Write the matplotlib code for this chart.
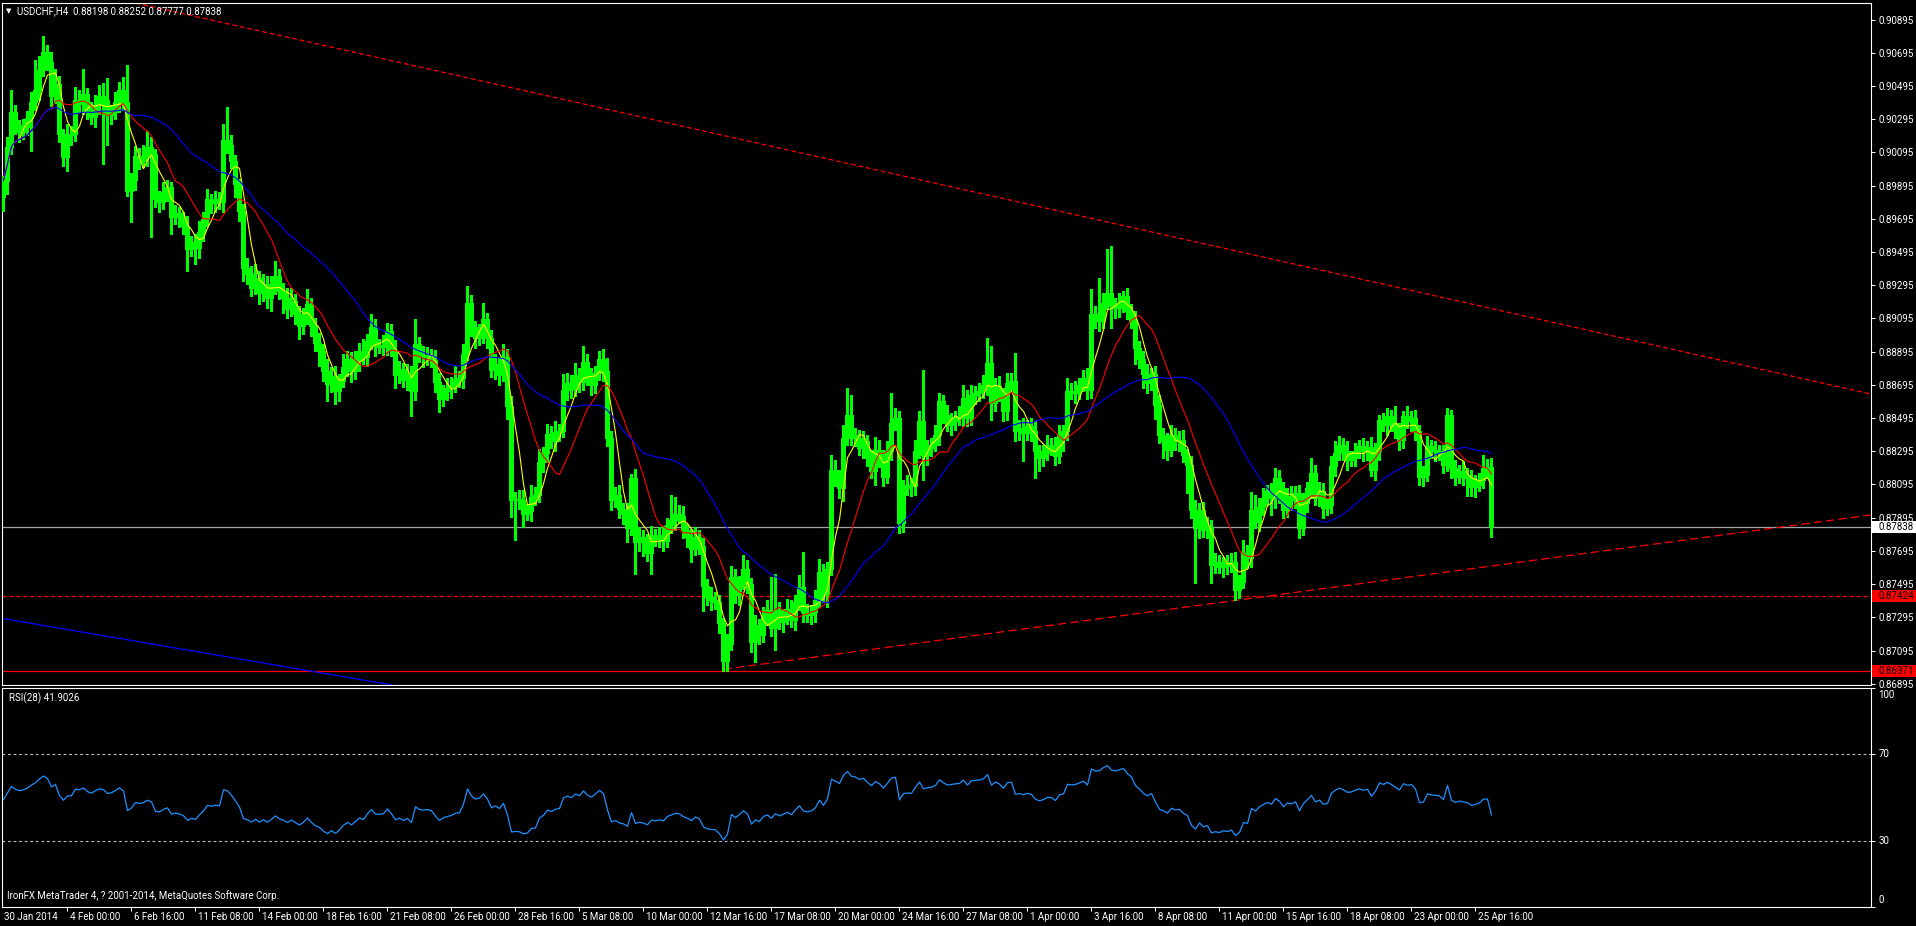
import numpy as np
import pandas as pd
import matplotlib
matplotlib.use("Agg")
import matplotlib.pyplot as plt
from matplotlib.patches import Rectangle
from matplotlib.transforms import blended_transform_factory, offset_copy

plt.rcParams['font.family'] = ['Roboto', 'DejaVu Sans']
plt.rcParams['lines.scale_dashes'] = False

## USDCHF H4 closes, in 1e-5 price units (one row = 20 bars)
closes = [
    89925, 90127, 90338, 90258, 90217, 90248, 90302, 90399, 90473, 90594, 90699, 90640, 90433, 90505, 90207, 90066, 90197, 90203, 90409, 90389,
    90445, 90348, 90308, 90378, 90433, 90413, 90318, 90338, 90399, 90469, 90399, 89865, 89929, 90071, 90046, 90071, 90127, 90086, 89815, 89794,
    89855, 89889, 89704, 89728, 89704, 89653, 89512, 89553, 89522, 89613, 89694, 89815, 89788, 89815, 89794, 90167, 90141, 90042, 89905, 89744,
    89400, 89360, 89280, 89340, 89250, 89300, 89220, 89280, 89350, 89260, 89220, 89150, 89200, 89120, 89050, 89100, 89180, 89050, 88950, 88900,
    88780, 88700, 88750, 88660, 88720, 88800, 88850, 88780, 88840, 88900, 88860, 88960, 89041, 88929, 88925, 88936, 89020, 88908, 88757, 88788,
    88725, 88761, 88656, 88942, 88872, 88862, 88872, 88845, 88715, 88609, 88656, 88677, 88694, 88731, 88736, 88883, 89188, 89041, 88978, 88999,
    89089, 88978, 88782, 88820, 88757, 88862, 88567, 87999, 88009, 87999, 87919, 87936, 88020, 88030, 88230, 88283, 88399, 88357, 88409, 88420,
    88662, 88704, 88668, 88757, 88715, 88830, 88736, 88694, 88767, 88851, 88778, 88378, 87999, 88030, 87946, 87915, 87831, 88136, 87746, 87778,
    87746, 87683, 87788, 87767, 87788, 87757, 87852, 87883, 87919, 87904, 87820, 87778, 87708, 87778, 87725, 87483, 87420, 87399, 87388, 87263,
    87031, 87136, 87536, 87431, 87504, 87588, 87494, 87146, 87247, 87187, 87307, 87338, 87231, 87338, 87267, 87307, 87348, 87277, 87388, 87479,
    87328, 87307, 87328, 87398, 87569, 87438, 87589, 88184, 88133, 88073, 88375, 88516, 88395, 88375, 88314, 88355, 88254, 88174, 88304, 88250,
    88143, 88294, 88466, 88496, 87861, 88073, 88093, 88083, 88294, 88476, 88274, 88314, 88335, 88395, 88596, 88516, 88455, 88476, 88496, 88506,
    88617, 88496, 88637, 88647, 88657, 88697, 88828, 88586, 88687, 88637, 88536, 88707, 88717, 88415, 88435, 88405, 88445, 88415, 88294, 88254,
    88284, 88335, 88330, 88264, 88395, 88415, 88657, 88647, 88657, 88697, 88737, 88667, 89120, 89080, 89090, 89191, 89251, 89170, 89156, 89191,
    89231, 89140, 89080, 88919, 88848, 88758, 88707, 88758, 88572, 88395, 88355, 88304, 88395, 88355, 88365, 88270, 88214, 87942, 87831, 87942,
    87821, 87841, 87610, 87630, 87600, 87630, 87606, 87630, 87459, 87509, 87680, 87650, 87942, 87872, 87962, 88013, 88053, 88013, 88133, 88073,
    87942, 88023, 88003, 88043, 87831, 87982, 88073, 88164, 88013, 88053, 87952, 87972, 88204, 88284, 88335, 88295, 88244, 88254, 88295, 88325,
    88295, 88319, 88184, 88295, 88486, 88456, 88506, 88466, 88415, 88365, 88506, 88476, 88496, 88415, 88143, 88154, 88325, 88305, 88295, 88284,
    88214, 88516, 88194, 88143, 88174, 88154, 88133, 88077, 88093, 88123, 88194, 88198, 87838,
]
first_open = 89825

## wicks above / below the body, in pips
upper_wick = [
    3, 6, 13, 4, 3, 5, 4, 6, 18, 8, 10, 4, 6, 9, 5, 3, 7, 5, 8, 6,
    15, 4, 5, 6, 7, 8, 13, 4, 6, 5, 8, 22, 4, 6, 5, 7, 10, 6, 3, 5,
    6, 4, 3, 5, 4, 3, 6, 4, 5, 7, 4, 6, 3, 5, 4, 10, 20, 6, 4, 3,
    4, 6, 5, 8, 4, 6, 5, 7, 9, 4, 5, 6, 8, 4, 5, 6, 9, 4, 5, 6,
    4, 7, 5, 6, 4, 8, 5, 4, 6, 5, 7, 4, 8, 5, 4, 6, 5, 4, 6, 5,
    4, 6, 5, 15, 4, 6, 5, 4, 6, 5, 4, 6, 5, 8, 4, 6, 10, 5, 4, 6,
    10, 4, 5, 6, 4, 8, 5, 6, 4, 5, 6, 4, 7, 5, 8, 4, 6, 5, 7, 4,
    10, 6, 5, 7, 4, 10, 5, 6, 4, 5, 6, 8, 4, 5, 6, 4, 7, 2, 5, 6,
    4, 5, 6, 4, 5, 6, 4, 15, 10, 5, 6, 4, 5, 6, 4, 5, 4, 6, 5, 4,
    3, 6, 7, 5, 4, 8, 5, 4, 6, 4, 5, 6, 20, 22, 5, 4, 6, 5, 4, 7,
    21, 5, 4, 6, 8, 5, 4, 9, 6, 5, 8, 16, 12, 4, 5, 6, 4, 5, 8, 6,
    5, 6, 18, 6, 4, 5, 6, 4, 7, 6, 31, 5, 4, 6, 5, 4, 6, 5, 4, 6,
    8, 5, 6, 4, 5, 6, 15, 10, 5, 6, 4, 6, 5, 17, 5, 6, 4, 5, 6, 4,
    5, 6, 4, 5, 6, 4, 8, 5, 6, 4, 5, 6, 15, 5, 25, 6, 26, 28, 5, 6,
    3, 5, 4, 6, 4, 5, 6, 4, 5, 6, 4, 5, 6, 4, 5, 6, 4, 5, 6, 4,
    5, 6, 4, 5, 4, 3, 4, 5, 6, 4, 8, 5, 11, 9, 5, 6, 4, 5, 6, 5,
    4, 5, 6, 4, 5, 6, 4, 9, 5, 6, 5, 4, 6, 7, 5, 4, 6, 4, 5, 4,
    5, 4, 6, 5, 3, 4, 5, 4, 10, 5, 3, 6, 4, 5, 4, 5, 6, 4, 5, 4,
    5, 4, 3, 5, 4, 6, 4, 5, 6, 4, 8, 5, 5.4,
]
lower_wick = [
    8, 8, 4, 5, 6, 4, 5, 20, 5, 6, 4, 5, 6, 4, 5, 5, 8, 6, 4, 5,
    6, 5, 4, 6, 5, 39, 18, 5, 4, 6, 5, 3, 19, 6, 5, 4, 6, 50, 5, 6,
    4, 5, 10, 4, 6, 5, 13, 4, 10, 6, 5, 4, 6, 5, 4, 6, 5, 4, 8, 6,
    8, 6, 5, 4, 7, 5, 6, 8, 4, 5, 9, 5, 4, 6, 8, 5, 4, 6, 5, 9,
    6, 10, 5, 8, 6, 4, 5, 7, 5, 6, 4, 5, 5, 6, 4, 5, 6, 4, 8, 5,
    4, 6, 15, 5, 4, 6, 5, 4, 6, 8, 4, 5, 6, 4, 5, 6, 4, 5, 6, 4,
    5, 6, 4, 5, 6, 4, 8, 10, 24, 5, 8, 4, 6, 5, 4, 6, 5, 4, 6, 5,
    4, 6, 5, 4, 6, 5, 4, 6, 5, 4, 6, 5, 6, 4, 5, 6, 8, 4, 19, 5,
    8, 5, 13, 4, 5, 6, 4, 5, 6, 4, 5, 6, 8, 4, 5, 15, 5, 6, 4, 6,
    6, 6, 4, 5, 6, 4, 5, 6, 12, 5, 4, 6, 5, 13, 4, 6, 5, 4, 6, 5,
    6, 4, 5, 6, 4, 5, 8, 4, 5, 6, 8, 4, 6, 5, 4, 6, 5, 4, 8, 5,
    6, 4, 5, 4, 6, 5, 4, 6, 5, 4, 15, 6, 5, 4, 6, 5, 4, 6, 5, 4,
    6, 5, 4, 6, 5, 4, 6, 10, 5, 4, 6, 5, 4, 6, 5, 17, 4, 6, 16, 8,
    5, 4, 6, 5, 4, 10, 5, 4, 6, 5, 4, 6, 5, 4, 6, 5, 4, 13, 6, 5,
    6, 5, 4, 10, 5, 8, 6, 4, 8, 5, 10, 6, 4, 5, 6, 4, 17, 5, 33, 6,
    4, 5, 11, 5, 4, 6, 5, 4, 6, 5, 4, 6, 5, 4, 6, 5, 4, 10, 6, 9,
    5, 4, 6, 5, 6, 4, 5, 6, 4, 5, 6, 4, 5, 6, 4, 5, 6, 4, 5, 4,
    6, 5, 4, 6, 5, 4, 6, 5, 4, 6, 5, 4, 6, 5, 5, 6, 4, 5, 6, 4,
    5, 4, 6, 5, 4, 6, 11, 5, 6, 4, 5, 6, 6.1,
]

price_ticks = [0.90895, 0.90695, 0.90495, 0.90295, 0.90095, 0.89895, 0.89695,
               0.89495, 0.89295, 0.89095, 0.88895, 0.88695, 0.88495, 0.88295,
               0.88095, 0.87895, 0.87695, 0.87495, 0.87295, 0.87095, 0.86895]
date_labels = ['30 Jan 2014', '4 Feb 00:00', '6 Feb 16:00', '11 Feb 08:00', '14 Feb 00:00',
               '18 Feb 16:00', '21 Feb 08:00', '26 Feb 00:00', '28 Feb 16:00', '5 Mar 08:00',
               '10 Mar 00:00', '12 Mar 16:00', '17 Mar 08:00', '20 Mar 00:00', '24 Mar 16:00',
               '27 Mar 08:00', '1 Apr 00:00', '3 Apr 16:00', '8 Apr 08:00', '11 Apr 00:00',
               '15 Apr 16:00', '18 Apr 08:00', '23 Apr 00:00', '25 Apr 16:00']
bars_per_label = 16

title_text = 'USDCHF,H4  0.88198 0.88252 0.87777 0.87838'
rsi_text = 'RSI(28) 41.9026'
footer_text = 'IronFX MetaTrader 4, ? 2001-2014, MetaQuotes Software Corp.'

ma_periods = [5, 13, 34]
ma_colors = ['#ffff00', '#ff0000', '#0000ff']
rsi_period = 28
rsi_seed = (5.6e-4, 6.2e-4)   # avg gain / loss carried in from bars before the window
rsi_levels = [30, 70]
rsi_scale = [0, 30, 70, 100]

bid_level = 0.87838
dash_level = 0.87424
solid_level = 0.86971
trend_down = [(40, 0.90957), (360, 0.89220)]
trend_up = [(180, 0.86982), (280, 0.87306)]
trend_blue = [(0, 0.87287), (80, 0.86958)]

## ---------------------------------------------------------------
c = np.array(closes) / 1e5
o = np.concatenate([[first_open / 1e5], c[:-1]])
hi = np.maximum(o, c) + np.array(upper_wick) / 1e4
lo = np.minimum(o, c) - np.array(lower_wick) / 1e4
n = len(c)
x = np.arange(n)

W, H = 1916, 926
fig = plt.figure(figsize=(W / 100, H / 100), dpi=100, facecolor='black')
ax = fig.add_axes([2 / W, (H - 685) / H, 1869 / W, 682 / H])
axr = fig.add_axes([2 / W, (H - 907) / H, 1869 / W, 219 / H])

for a in (ax, axr):
    a.set_facecolor('black')
    for s in a.spines.values():
        s.set_color('white')
        s.set_linewidth(0.8)
    a.set_xlim(-0.375, 466.875)

ax.set_ylim(0.868874, 0.909949)
axr.set_ylim(0, 100)

# candles
lime = '#00ff00'
ax.vlines(x, lo, hi, colors=lime, linewidth=0.75, antialiased=False, zorder=3)
body = np.maximum(np.abs(c - o), 0.000004)
fills = np.where(c >= o, 'black', 'white')
ax.bar(x, body, bottom=np.minimum(o, c), width=0.5, color=fills, edgecolor=lime,
       linewidth=0.75, antialiased=False, zorder=4)

# moving averages
cs = pd.Series(c)
for p, col in zip(ma_periods, ma_colors):
    ax.plot(x, cs.rolling(p, min_periods=1).mean(), color=col, lw=0.8, zorder=5)

# levels and trend lines
ax.axhline(bid_level, color='#a0a4a8', lw=0.9, zorder=2)
ax.axhline(dash_level, color='#ff0000', lw=0.9, ls=(0, (3, 2)), zorder=2)
ax.axhline(solid_level, color='#ff0000', lw=0.9, zorder=2)
ax.axline(trend_down[0], trend_down[1], color='#ff0000', lw=0.9, ls=(0, (3.5, 2)), zorder=2)
ax.axline(trend_blue[0], trend_blue[1], color='#0000ff', lw=0.9, zorder=2)
(x1, y1), (x2, y2) = trend_up
slope = (y2 - y1) / (x2 - x1)
xe = 466.875
ax.plot([x1, xe], [y1, y1 + slope * (xe - x1)], color='#ff0000', lw=0.9,
        ls=(0, (6, 3)), zorder=2)

# price axis
ax.yaxis.tick_right()
ax.set_yticks(price_ticks)
ax.set_yticklabels([f'{v:.5f}' for v in price_ticks])
ax.tick_params(axis='y', colors='white', labelcolor='white', labelsize=7, length=3,
               width=0.75, pad=2.5)
ax.set_xticks([])

tr = blended_transform_factory(ax.transAxes, ax.transData)
half = 6 / 16550
for lvl, fc in ((bid_level, 'white'), (dash_level, '#ff0000'), (solid_level, '#ff0000')):
    ax.add_patch(Rectangle((1.0005, lvl - half), 45 / 1869, 2 * half, transform=tr,
                           facecolor=fc, edgecolor='none', clip_on=False, zorder=10))
    ax.text(1 + 7.5 / 1869, lvl, f'{lvl:.5f}', transform=tr, color='black', fontsize=7,
            va='center', ha='left', clip_on=False, zorder=11)

fig.text(9 / W, 1 - 11 / H, '▼', color='white', fontsize=5, ha='center', va='center',
         family='DejaVu Sans')
fig.text(17 / W, 1 - 11 / H, title_text, color='white', fontsize=7, ha='left', va='center')

# RSI
chg = np.diff(np.concatenate([[o[0]], c]))
g, l = rsi_seed
rsi = []
for d in chg:
    g = (g * (rsi_period - 1) + max(d, 0)) / rsi_period
    l = (l * (rsi_period - 1) + max(-d, 0)) / rsi_period
    rsi.append(100 * g / (g + l))
axr.plot(x, rsi, color='#1e90ff', lw=0.9, zorder=3)
for lv in rsi_levels:
    axr.axhline(lv, color='#c0c0c0', lw=0.8, ls=(0, (2, 2)), zorder=2)

# RSI scale: ticks at the levels, labels kept inside the window like MT4
axr.yaxis.tick_right()
axr.set_yticks(rsi_scale)
axr.set_yticklabels([])
axr.tick_params(axis='y', colors='white', length=3, width=0.75)
trr = blended_transform_factory(axr.transAxes, axr.transData)
label_y = {0: 3.0, 30: 30, 70: 70, 100: 96.8}
for v in rsi_scale:
    axr.text(1 + 7.5 / 1869, label_y[v], str(v), transform=trr, color='white', fontsize=7,
             ha='left', va='center', clip_on=False)

tick_pos = [bars_per_label * k for k in range(len(date_labels))]
axr.set_xticks(tick_pos[1:])
axr.set_xticklabels([])
axr.tick_params(axis='x', colors='white', length=3, width=0.75, direction='out')
trd = offset_copy(blended_transform_factory(axr.transData, fig.transFigure), fig=fig,
                  x=3, y=0, units='dots')
for k, lab in enumerate(date_labels):
    xp = tick_pos[k] if k > 0 else -0.5
    axr.text(xp, 1 - 917 / H, lab, transform=trd, color='white', fontsize=7,
             ha='left', va='center', clip_on=False)

axr.text(7 / 1869, 1 - 10 / 219, rsi_text, transform=axr.transAxes, color='white',
         fontsize=7, ha='left', va='center')
axr.text(5 / 1869, 11 / 219, footer_text, transform=axr.transAxes, color='white',
         fontsize=7, ha='left', va='center')

fig.savefig('out.png', dpi=100, facecolor='black')
